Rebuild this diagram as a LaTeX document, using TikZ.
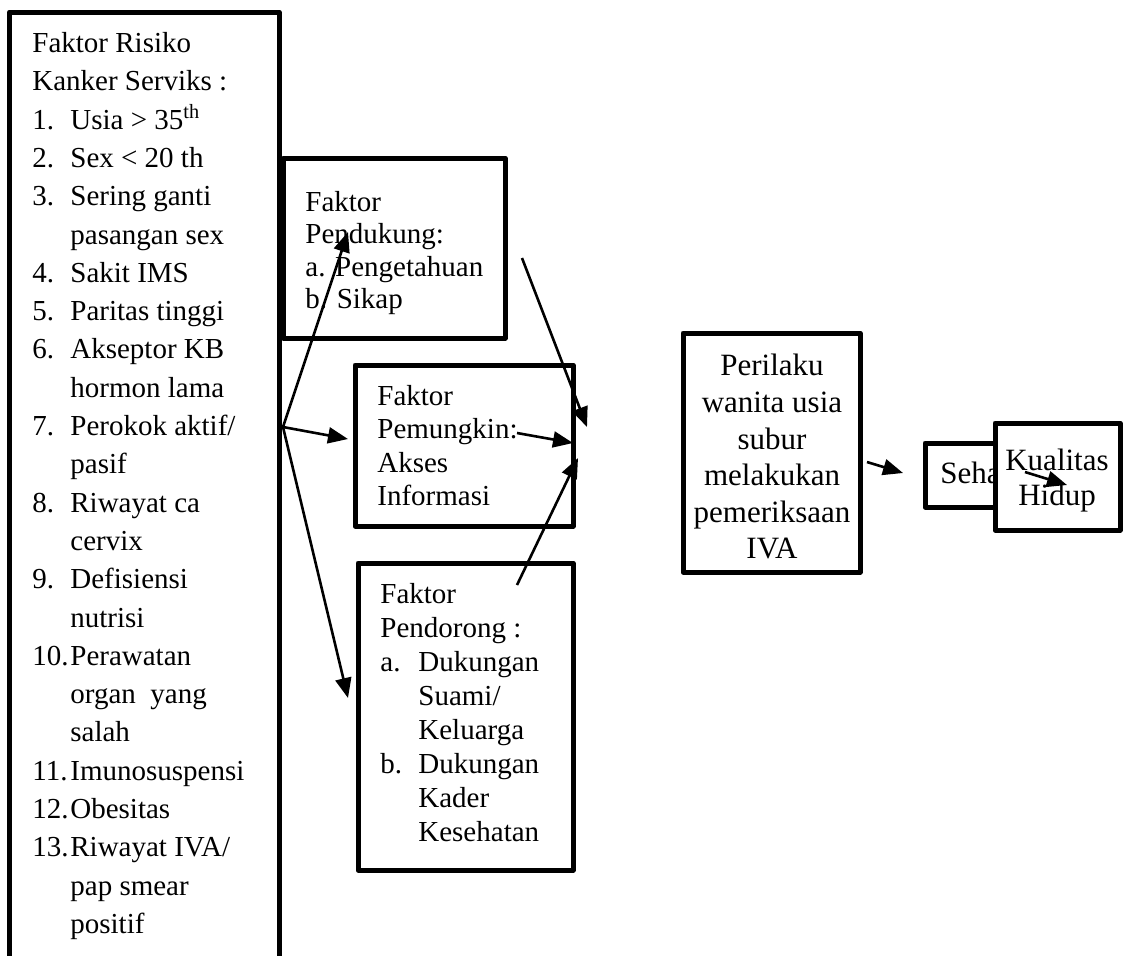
\documentclass[tikz,border=0pt]{standalone}
\usepackage{fontspec}
\setmainfont{Liberation Serif}
\usetikzlibrary{arrows.meta}

\newcommand{\nr}[1]{\makebox[19pt][l]{#1}}
\newcommand{\ind}{\hspace*{19pt}}

\begin{document}
\begin{tikzpicture}[x=0.5pt, y=-0.5pt,
  box/.style={draw, line width=2.5pt, line join=round, inner sep=0pt},
  txt/.style={anchor=north west, inner sep=0pt, align=left},
  arr/.style={-{Triangle[length=10pt,width=8pt]}, line width=1.3pt}]
\useasboundingbox (0,0) rectangle (1125,955);
% boxes
\node[box, minimum width=134.75pt, minimum height=481.5pt] (risk) at (144.25,493.5) {};
\node[box, minimum width=111pt, minimum height=90pt] (pendukung) at (394,248) {};
\node[box, minimum width=109pt, minimum height=80.5pt] (pemungkin) at (464,445.5) {};
\node[box, minimum width=107.5pt, minimum height=153.5pt] (pendorong) at (465.5,716.5) {};
\node[box, minimum width=88.5pt, minimum height=119.5pt] (perilaku) at (771.5,452.5) {};
\node[box, minimum width=57.5pt, minimum height=32pt] (sehat) at (982.5,475) {};
\node[anchor=base west, inner sep=0pt, font={\fontsize{15.5}{17.5}\selectfont}] (sehattxt) at (940,483) {Sehat};
\node[box, fill=white, minimum width=62.5pt, minimum height=53.5pt] (kualitas) at (1057.5,476.5) {};
% texts
\node[txt, font={\fontsize{14.5}{19.15}\selectfont}] (risktxt) at (32,32) {Faktor Risiko\\
Kanker Serviks :\\
\nr{1.}Usia > 35\textsuperscript{th}\\
\nr{2.}Sex < 20 th\\
\nr{3.}Sering ganti\\
\ind pasangan sex\\
\nr{4.}Sakit IMS\\
\nr{5.}Paritas tinggi\\
\nr{6.}Akseptor KB\\
\ind hormon lama\\
\nr{7.}Perokok aktif/\\
\ind pasif\\
\nr{8.}Riwayat ca\\
\ind cervix\\
\nr{9.}Defisiensi\\
\ind nutrisi\\
\nr{10.}Perawatan\\
\ind organ\ \ yang\\
\ind salah\\
\nr{11.}Imunosuspensi\\
\nr{12.}Obesitas\\
\nr{13.}Riwayat IVA/\\
\ind pap smear\\
\ind positif};
\node[txt, font={\fontsize{14.5}{16.2}\selectfont}] (pendukungtxt) at (305,191) {Faktor\\ Pendukung:\\ a. Pengetahuan\\ b. Sikap};
\node[txt, font={\fontsize{14.5}{16.7}\selectfont}] (pemungkintxt) at (377,385) {Faktor\\ Pemungkin:\\ Akses\\ Informasi};
\node[txt, font={\fontsize{14.5}{17}\selectfont}] (pendorongtxt) at (380,583) {Faktor\\ Pendorong :\\
\nr{a.}Dukungan\\ \ind Suami/\\ \ind Keluarga\\
\nr{b.}Dukungan\\ \ind Kader\\ \ind Kesehatan};
\node[anchor=north, inner sep=0pt, align=center, font={\fontsize{15.5}{18.3}\selectfont}] (perilakutxt) at (772,354) {Perilaku\\ wanita usia\\ subur\\ melakukan\\ pemeriksaan\\ IVA};
\node[anchor=north, inner sep=0pt, align=center, font={\fontsize{15.5}{17.5}\selectfont}] (kualitastxt) at (1057,449) {Kualitas\\ Hidup};
% arrow ends
\coordinate (riskout) at (283,427);
\coordinate (pendukungin) at (348,232);
\coordinate (pemungkinin) at (348,439);
\coordinate (pendorongin) at (348,698);
\coordinate (pendukungout) at (522,258);
\coordinate (pendukungend) at (587,427);
\coordinate (pemungkinout) at (517,433);
\coordinate (pemungkinend) at (573,443);
\coordinate (pendorongout) at (517,585);
\coordinate (pendorongend) at (578,458);
\coordinate (perilakuout) at (867,462);
\coordinate (sehatin) at (903,473);
\coordinate (sehatout) at (1025,472);
\coordinate (kualitasin) at (1067,485);
% arrows
\draw[arr] (riskout) -- (pendukungin);
\draw[arr] (riskout) -- (pemungkinin);
\draw[arr] (riskout) -- (pendorongin);
\draw[arr] (pendukungout) -- (pendukungend);
\draw[arr] (pemungkinout) -- (pemungkinend);
\draw[arr] (pendorongout) -- (pendorongend);
\draw[arr] (perilakuout) -- (sehatin);
\draw[arr] (sehatout) -- (kualitasin);
\end{tikzpicture}
\end{document}
